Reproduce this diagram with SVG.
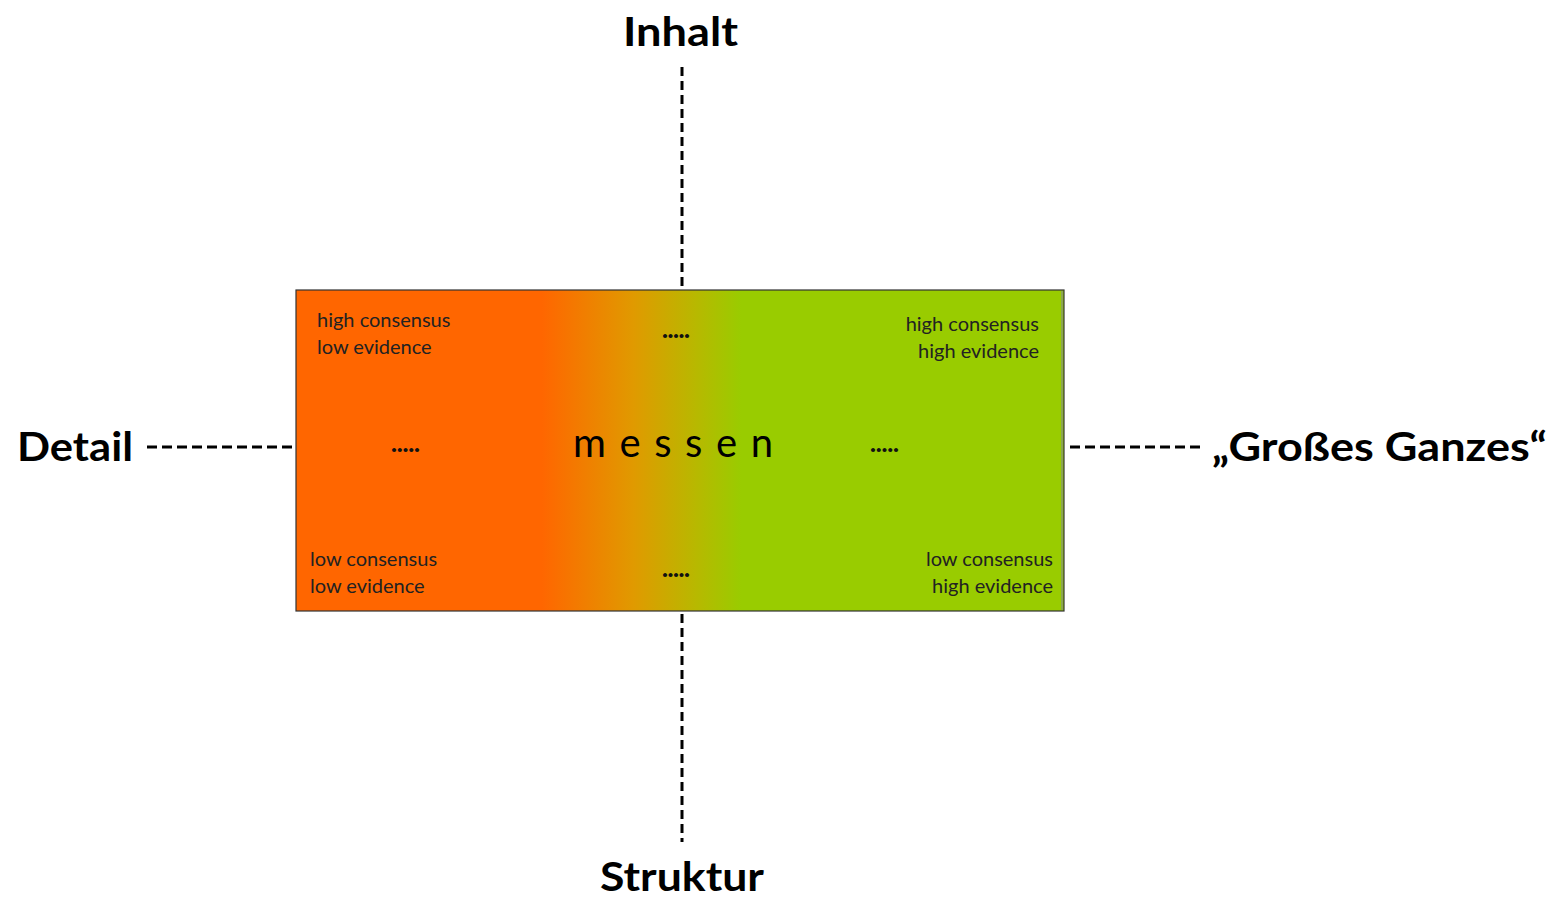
<svg xmlns="http://www.w3.org/2000/svg" width="1560" height="897" viewBox="0 0 1560 897">
  <style>
    .axis { fill: #000; font-family: Lato, "Open Sans", sans-serif; font-weight: 700; font-size: 41px; }
    .note { fill: #222; font-family: Lato, "Open Sans", sans-serif; font-size: 20px; }
    .dots { fill: #111; font-family: Lato, "Open Sans", sans-serif; font-weight: 900; font-size: 25px; }
    .dash { stroke: #000; stroke-width: 3; fill: none; }
    .v { stroke-dasharray: 9 5; }
    .h { stroke-dasharray: 10 5; }
  </style>
  <defs>
    <linearGradient id="scale" x1="296" y1="0" x2="1064" y2="0" gradientUnits="userSpaceOnUse">
      <stop offset="0" stop-color="#FF6600"/>
      <stop offset="0.32" stop-color="#FF6600"/>
      <stop offset="0.44" stop-color="#E09A00"/>
      <stop offset="0.52" stop-color="#B8B800"/>
      <stop offset="0.58" stop-color="#99CC00"/>
      <stop offset="1" stop-color="#99CC00"/>
    </linearGradient>
  </defs>
  <rect width="1560" height="897" fill="#fff"/>

  <g id="connectors">
    <line class="dash v" x1="682" y1="67" x2="682" y2="289"/>
    <line class="dash v" x1="682" y1="614" x2="682" y2="842"/>
    <line class="dash h" x1="147" y1="447" x2="295" y2="447"/>
    <line class="dash h" x1="1070" y1="447" x2="1200" y2="447"/>
  </g>

  <g id="field">
    <rect x="296" y="290" width="768" height="321" fill="url(#scale)" stroke="#333" stroke-width="1.2"/>
    <line x1="1062" y1="291" x2="1062" y2="610" stroke="#8a9a70" stroke-width="1.5"/>
    <text class="note" x="317" y="327">high consensus</text>
    <text class="note" x="317" y="354">low evidence</text>
    <text class="note" x="1039" y="331" text-anchor="end">high consensus</text>
    <text class="note" x="1039" y="358" text-anchor="end">high evidence</text>
    <text class="note" x="310" y="566">low consensus</text>
    <text class="note" x="310" y="593">low evidence</text>
    <text class="note" x="1053" y="566" text-anchor="end">low consensus</text>
    <text class="note" x="1053" y="593" text-anchor="end">high evidence</text>
    <text class="dots" x="662" y="338" textLength="28" lengthAdjust="spacing">.....</text>
    <text class="dots" x="391" y="452" textLength="29" lengthAdjust="spacing">.....</text>
    <text class="dots" x="870" y="452" textLength="29" lengthAdjust="spacing">.....</text>
    <text class="dots" x="662" y="577" textLength="28" lengthAdjust="spacing">.....</text>
    <text x="573" y="457" textLength="200" lengthAdjust="spacing" fill="#000" font-family="Lato, 'Open Sans', sans-serif" font-size="40">messen</text>
  </g>

  <g id="label-inhalt">
    <text class="axis" x="623" y="46" textLength="115" lengthAdjust="spacingAndGlyphs">Inhalt</text>
  </g>
  <g id="label-struktur">
    <text class="axis" x="600" y="891" textLength="164" lengthAdjust="spacingAndGlyphs">Struktur</text>
  </g>
  <g id="label-detail">
    <text class="axis" x="17" y="461" textLength="116" lengthAdjust="spacingAndGlyphs">Detail</text>
  </g>
  <g id="label-ganzes">
    <text class="axis" x="1212" y="461" textLength="335" lengthAdjust="spacingAndGlyphs">„Großes Ganzes“</text>
  </g>
</svg>
